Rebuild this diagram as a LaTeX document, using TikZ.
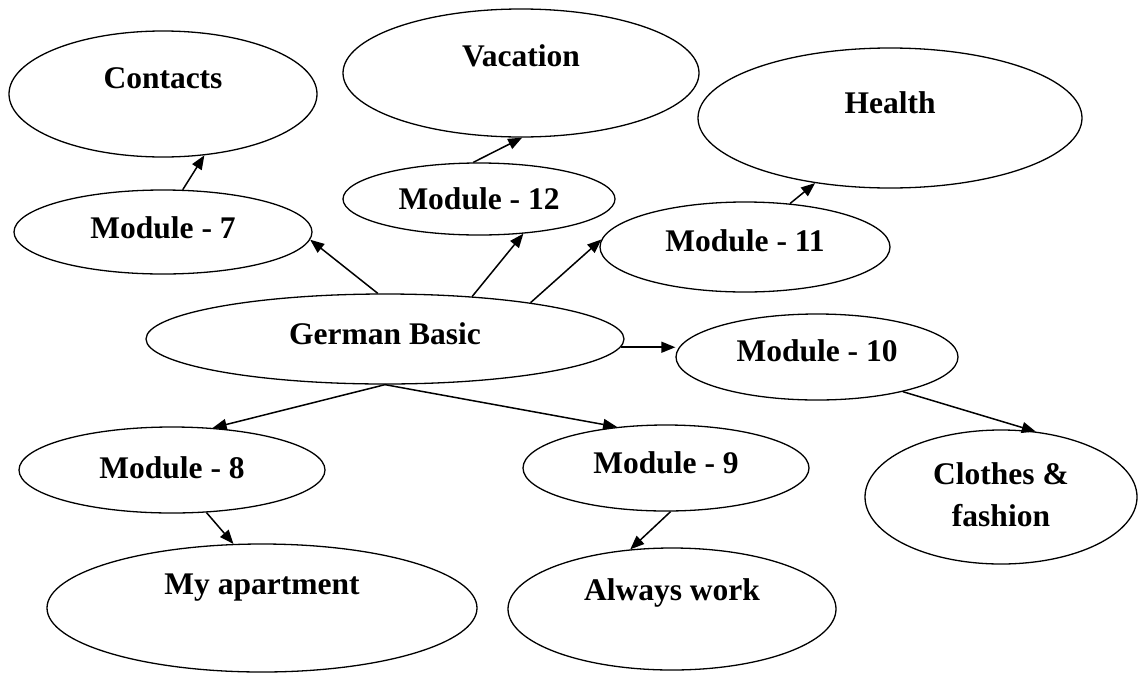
\documentclass[tikz,border=0pt]{standalone}
\usepackage{fontspec}
\setmainfont{Liberation Serif}
\usetikzlibrary{arrows.meta,shapes.geometric}
\begin{document}
\begin{tikzpicture}[x=1pt,y=-1pt,
  oval/.style={draw, ellipse, line width=1.3pt, inner sep=0pt},
  lbl/.style={font=\fontsize{31.5}{42}\selectfont\bfseries, align=center},
  link/.style={line width=1.5pt, -{Triangle[length=14pt,width=11pt]}}]
\useasboundingbox[fill=white] (0,0) rectangle (1142,675);
% ellipses: centre, then full width and height
\node[oval, minimum width=308pt, minimum height=126pt, label={[lbl,yshift=16pt]center:Contacts}] (contacts) at (163,94) {};
\node[oval, minimum width=356pt, minimum height=128pt, label={[lbl,yshift=17pt]center:Vacation}] (vacation) at (521,73) {};
\node[oval, minimum width=384pt, minimum height=140pt, label={[lbl,yshift=15pt]center:Health}] (health) at (890,118) {};
\node[oval, minimum width=298pt, minimum height=84pt, label={[lbl,yshift=4pt]center:Module - 7}] (m7) at (163,232) {};
\node[oval, minimum width=272pt, minimum height=72pt, label={[lbl]center:Module - 12}] (m12) at (479,199) {};
\node[oval, minimum width=290pt, minimum height=90pt, label={[lbl,yshift=6pt]center:Module - 11}] (m11) at (745,247) {};
\node[oval, minimum width=478pt, minimum height=90pt, label={[lbl,yshift=5pt]center:German Basic}] (gb) at (385,339) {};
\node[oval, minimum width=282pt, minimum height=86pt, label={[lbl,yshift=6pt]center:Module - 10}] (m10) at (817,357) {};
\node[oval, minimum width=306pt, minimum height=86pt, label={[lbl,yshift=2pt]center:Module - 8}] (m8) at (172,470) {};
\node[oval, minimum width=286pt, minimum height=86pt, label={[lbl,yshift=5pt]center:Module - 9}] (m9) at (666,468) {};
\node[oval, minimum width=272pt, minimum height=134pt, label={[lbl,yshift=2pt]center:Clothes \&\\fashion}] (clothes) at (1001,497) {};
\node[oval, minimum width=430pt, minimum height=128pt, label={[lbl,yshift=20pt]center:My apartment}] (apt) at (262,608) {};
\node[oval, minimum width=328pt, minimum height=122pt, label={[lbl,yshift=16pt]center:Always work}] (work) at (672,609) {};
% connectors
\draw[link] (m7.65.7) -- (contacts.-56.5);
\draw[link] (m12.99.5) -- (vacation.-89);
\draw[link] (m11.44.4) -- (health.-139.6);
\draw[link] (gb.99) -- (m7.-3.8);
\draw[link] (gb.26.8) -- (m12.-38.8);
\draw[link] (gb.14.9) -- (m11.177.2);
\draw[link] (gb.-2.4) -- (gb.-2.4 -| m10.west);
\draw[link] (gb.south) -- (m8.46.5);
\draw[link] (gb.south) -- (m9.140.4);
\draw[link] (m10.-22.7) -- (clothes.62.4);
\draw[link] (m8.-51.8) -- (apt.114.7);
\draw[link] (m9.-84.8) -- (work.125.4);
\end{tikzpicture}
\end{document}
